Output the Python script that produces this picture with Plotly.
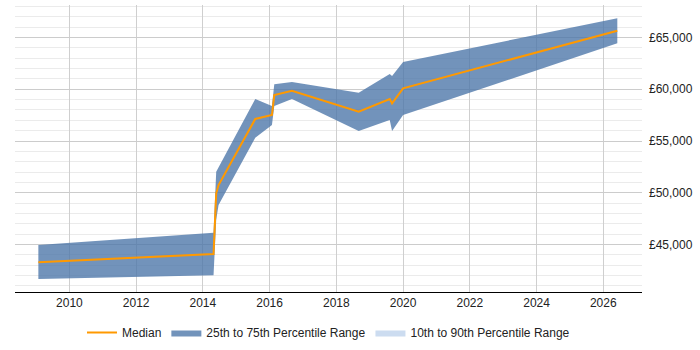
import plotly.graph_objects as go

# Data (decimal years)
years = [2009.07, 2014.32, 2014.40, 2014.47, 2015.57, 2016.07, 2016.14,
         2016.67, 2018.67, 2019.60, 2019.67, 2020.00, 2026.42]
p75 = [44955, 46150, 52030, 52450, 59060, 58380, 60475,
       60700, 59670, 61474, 61280, 62633, 66855]
median = [43300, 44090, 49950, 50750, 57130, 57510, 59445,
          59860, 57835, 59060, 58640, 60090, 65660]
p25 = [41670, 42030, 47400, 48820, 55320, 56550, 58380,
       59060, 55970, 57030, 55970, 57510, 64440]

y_ticks = [45000, 50000, 55000, 60000, 65000]
y_tick_labels = ["£45,000", "£50,000", "£55,000", "£60,000", "£65,000"]
x_ticks = [2010, 2012, 2014, 2016, 2018, 2020, 2022, 2024, 2026]

band_color = "rgba(74,117,168,0.78)"
font = "Liberation Sans, Arial, sans-serif"

fig = go.Figure()

# Median first in legend order
fig.add_trace(go.Scatter(x=years, y=p25, mode="lines", line=dict(width=0),
                         showlegend=False, hoverinfo="skip"))
fig.add_trace(go.Scatter(x=years, y=p75, mode="lines", line=dict(width=0),
                         fill="tonexty", fillcolor=band_color,
                         name="25th to 75th Percentile Range", legendrank=2))
fig.add_trace(go.Scatter(x=years, y=median, mode="lines",
                         line=dict(color="#FF9900", width=2),
                         name="Median", legendrank=1))
fig.add_trace(go.Scatter(x=[None], y=[None], mode="lines", line=dict(width=0),
                         fill="toself", fillcolor="rgba(198,216,238,0.9)",
                         name="10th to 90th Percentile Range", legendrank=3))

fig.update_layout(
    width=700, height=350,
    margin=dict(l=15, r=58, t=5, b=58),
    paper_bgcolor="white", plot_bgcolor="white",
    font=dict(family=font, size=12, color="#222"),
    showlegend=True,
    legend=dict(orientation="h", x=0.5, xanchor="center",
                yref="container", y=0.05, yanchor="middle",
                font=dict(size=12, color="#222"), traceorder="normal"),
    xaxis=dict(range=[2008.37, 2027.16], tickvals=x_ticks,
               tickformat="d", showgrid=True, gridcolor="#cfcfcf",
               gridwidth=1, showline=True, linecolor="#000", linewidth=1,
               ticks="", zeroline=False, fixedrange=True),
    yaxis=dict(range=[40415, 68140], side="right", tickvals=y_ticks,
               ticktext=y_tick_labels, showgrid=True, gridcolor="#cccccc",
               gridwidth=1, showline=False, ticks="", zeroline=False,
               ticklabelstandoff=6,
               minor=dict(dtick=1000, tick0=0, showgrid=True,
                          gridcolor="#ebebeb", gridwidth=1)),
)

fig.write_html("out.html")
